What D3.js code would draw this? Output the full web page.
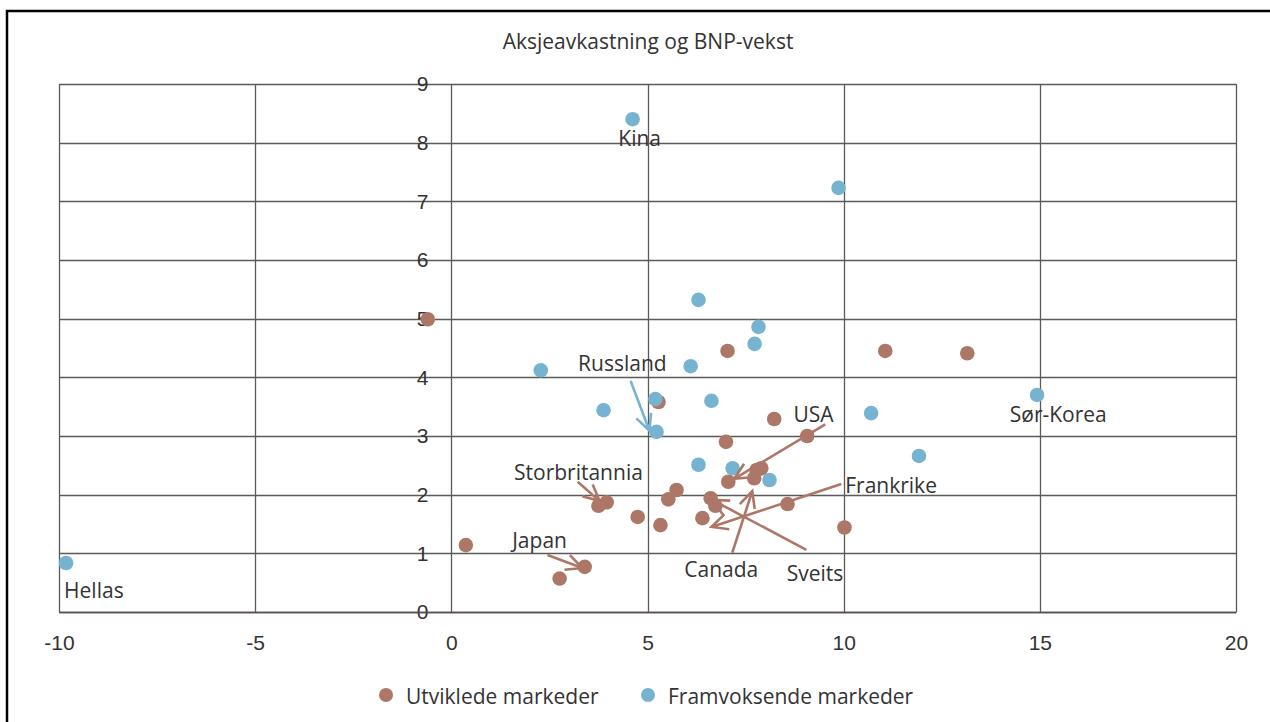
<!DOCTYPE html>
<html>
<head>
<meta charset="utf-8">
<script src="https://cdn.jsdelivr.net/npm/d3@7"></script>
<style>
  body { margin: 0; background: #fff; }
  svg { display: block; font-family: "Open Sans", "Noto Sans", sans-serif; }
  .tick text { fill: #333; font-size: 21px; }
</style>
</head>
<body>
<svg id="chart" width="1270" height="722"></svg>
<script>
// Utviklede markeder (BNP-vekst, aksjeavkastning)
var devX = [-0.6, 7.04, 11.06, 13.15, 5.28, 8.23, 9.07, 7.0, 7.9, 7.78, 7.06, 7.72,
            3.96, 3.75, 5.74, 5.53, 4.75, 5.33, 6.61, 6.73, 6.4, 8.57, 10.02, 0.37, 3.4, 2.76];
var devY = [4.99, 4.45, 4.45, 4.41, 3.58, 3.29, 3.0, 2.9, 2.45, 2.42, 2.22, 2.28,
            1.87, 1.81, 2.08, 1.92, 1.62, 1.48, 1.94, 1.81, 1.6, 1.84, 1.44, 1.14, 0.77, 0.57];

// Framvoksende markeder
var emgX = [-9.82, 4.62, 9.87, 6.3, 7.83, 7.73, 2.28, 6.1, 3.88, 5.2, 6.63, 5.23,
            10.7, 14.93, 11.92, 6.3, 7.17, 8.11];
var emgY = [0.835, 8.4, 7.23, 5.32, 4.86, 4.57, 4.12, 4.19, 3.44, 3.63, 3.6, 3.07,
            3.39, 3.7, 2.66, 2.51, 2.45, 2.25];

var xTicks = [-10, -5, 0, 5, 10, 15, 20];
var yTicks = [0, 1, 2, 3, 4, 5, 6, 7, 8, 9];

// etiketter: tekst, posisjon, serie
var labelText   = ["Kina", "Hellas", "Sør-Korea", "Russland", "USA", "Frankrike", "Canada", "Sveits", "Storbritannia", "Japan"];
var labelX      = [4.8, -9.87, 15.47, 4.36, 9.23, 10.04, 6.88, 9.27, 3.24, 2.25];
var labelY      = [8.06, 0.36, 3.36, 4.23, 3.36, 2.15, 0.72, 0.65, 2.37, 1.21];
var labelAnchor = ["middle", "start", "middle", "middle", "middle", "start", "middle", "middle", "middle", "middle"];

// piler: fra (x1,y1) til (x2,y2)
var arrowSeries = ["emg", "dev", "dev", "dev", "dev", "dev", "dev"];
var arrowX1 = [4.57, 9.53, 9.94, 7.16, 9.05, 3.22, 2.45];
var arrowY1 = [3.94, 3.2, 2.18, 1.01, 1.06, 2.22, 0.97];
var arrowX2 = [5.05, 7.21, 6.63, 7.67, 6.65, 3.78, 3.34];
var arrowY2 = [3.09, 2.27, 1.45, 2.06, 1.91, 1.89, 0.75];

var seriesNames = ["Utviklede markeder", "Framvoksende markeder"];
var colors = { dev: "#ad7767", emg: "#75b3d0" };
var fontSize = 21;

var svg = d3.select("#chart");

// ramme
svg.append("rect")
  .attr("x", 7).attr("y", 11)
  .attr("width", 1275).attr("height", 740)
  .attr("fill", "none").attr("stroke", "#000").attr("stroke-width", 2.5);

svg.append("text")
  .attr("x", 648).attr("y", 42)
  .attr("dy", "0.35em")
  .attr("text-anchor", "middle")
  .attr("font-size", fontSize).attr("fill", "#333")
  .text("Aksjeavkastning og BNP-vekst");

var x = d3.scaleLinear().domain([-10, 20]).range([59, 1236]);
var y = d3.scaleLinear().domain([0, 9]).range([612, 84]);

// rutenett
var grid = svg.append("g").attr("stroke", "#5a5a5a").attr("stroke-width", 1.3);
grid.selectAll(".h").data(yTicks).enter().append("line")
  .attr("x1", x(-10)).attr("x2", x(20))
  .attr("y1", d => Math.round(y(d)) + 0.5).attr("y2", d => Math.round(y(d)) + 0.5);
grid.selectAll(".v").data(xTicks).enter().append("line")
  .attr("y1", y(0)).attr("y2", y(9))
  .attr("x1", d => Math.round(x(d)) + 0.5).attr("x2", d => Math.round(x(d)) + 0.5);

// akser
var yAxis = svg.append("g")
  .attr("transform", "translate(" + x(0) + ",0)")
  .call(d3.axisLeft(y).tickValues(yTicks).tickSize(0).tickPadding(23));
yAxis.select(".domain").remove();

var xAxis = svg.append("g")
  .attr("transform", "translate(0," + y(0) + ")")
  .call(d3.axisBottom(x).tickValues(xTicks).tickSize(0).tickPadding(23)
    .tickFormat(d => String(d)));
xAxis.select(".domain").attr("stroke", "#5a4b4b").attr("stroke-width", 1.5);

// punkter
var devPts = devX.map((d, i) => [d, devY[i]]);
var emgPts = emgX.map((d, i) => [d, emgY[i]]);

svg.append("g").selectAll("circle").data(devPts).enter().append("circle")
  .attr("cx", d => x(d[0])).attr("cy", d => y(d[1]))
  .attr("r", 7.3).attr("fill", colors.dev);
svg.append("g").selectAll("circle").data(emgPts).enter().append("circle")
  .attr("cx", d => x(d[0])).attr("cy", d => y(d[1]))
  .attr("r", 7.3).attr("fill", colors.emg);

// piler
var arrows = svg.append("g").attr("fill", "none").attr("stroke-width", 2.6);
arrowX1.forEach(function(d, i) {
  var ax = x(d), ay = y(arrowY1[i]), bx = x(arrowX2[i]), by = y(arrowY2[i]);
  var ang = Math.atan2(ay - by, ax - bx);
  var len = 18, spread = 0.45;
  var path = "M" + ax + "," + ay + "L" + bx + "," + by +
    "M" + (bx + len * Math.cos(ang + spread)) + "," + (by + len * Math.sin(ang + spread)) +
    "L" + bx + "," + by +
    "L" + (bx + len * Math.cos(ang - spread)) + "," + (by + len * Math.sin(ang - spread));
  arrows.append("path").attr("d", path).attr("stroke", colors[arrowSeries[i]]);
});

// etiketter
svg.append("g").selectAll("text").data(labelText).enter().append("text")
  .attr("x", (d, i) => x(labelX[i]))
  .attr("y", (d, i) => y(labelY[i]))
  .attr("dy", "0.35em")
  .attr("text-anchor", (d, i) => labelAnchor[i])
  .attr("font-size", fontSize).attr("fill", "#333")
  .text(d => d);

// forklaring
var legend = svg.append("g").attr("transform", "translate(0,697)");
var legX = [386, 648];
seriesNames.forEach(function(name, i) {
  var g = legend.append("g").attr("transform", "translate(" + legX[i] + ",0)");
  g.append("circle").attr("r", 7).attr("cy", -2).attr("fill", i ? colors.emg : colors.dev);
  g.append("text").attr("x", 20).attr("dy", "0.35em")
    .attr("font-size", fontSize).attr("fill", "#333").text(name);
});
</script>
</body>
</html>
